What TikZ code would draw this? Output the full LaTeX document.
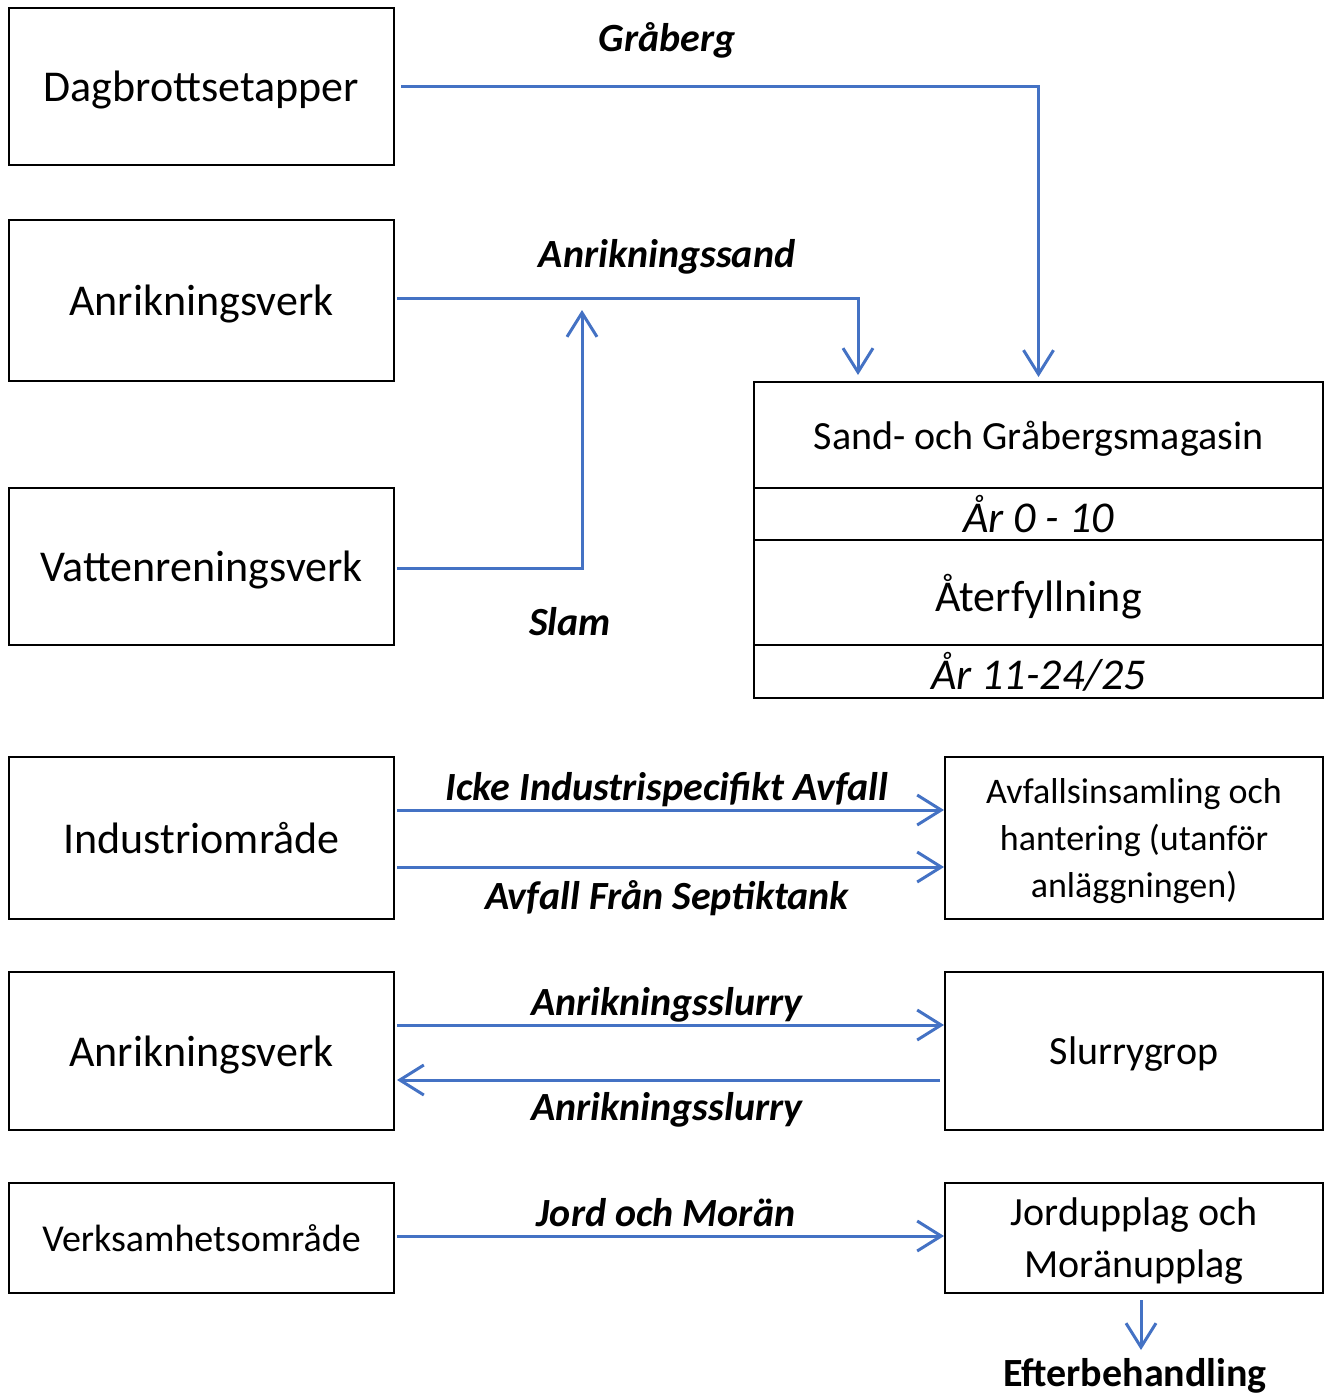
\documentclass[tikz,border=0pt]{standalone}
\usepackage{fontspec}
\setmainfont{Carlito}
\usetikzlibrary{arrows.meta}
\definecolor{flowblue}{HTML}{4472C4}
\tikzset{
    box/.style={draw, line width=1pt, inner sep=0pt, align=center, text depth=0pt, font=\fontsize{22}{30}\selectfont},
    flow/.style={draw=flowblue, line width=1.5pt, -{Straight Barb[length=12pt,width=15pt,line width=1.5pt]}},
    lbl/.style={text depth=0pt, font=\bfseries\itshape\fontsize{20}{24}\selectfont}
}
\begin{document}
\begin{tikzpicture}[x=0.5pt, y=-0.5pt]
    \useasboundingbox (0,0) rectangle (1325,1397);

    % Sources (left column)
    \node[box, minimum width=192.5pt, minimum height=78.5pt] (dag) at (201.5, 86.5) {Dagbrottsetapper};
    \node[box, minimum width=192.5pt, minimum height=80.5pt] (anr) at (201.5, 300.5) {Anrikningsverk};
    \node[box, minimum width=192.5pt, minimum height=78.5pt] (vat) at (201.5, 566.5) {Vattenreningsverk};
    \node[box, minimum width=192.5pt, minimum height=81pt] (ind) at (201.5, 838) {Industriområde};
    \node[box, minimum width=192.5pt, minimum height=79pt] (anrb) at (201.5, 1051) {Anrikningsverk};
    \node[box, minimum width=192.5pt, minimum height=55pt, font=\fontsize{19}{24}\selectfont] (verk) at (201.5, 1238) {Verksamhetsområde};

    % Sand- och Gråbergsmagasin (stacked)
    \node[box, minimum width=284.5pt, minimum height=53pt, font=\fontsize{20}{24}\selectfont] (mag) at (1038.5, 435) {Sand- och Gråbergsmagasin};
    \node[box, minimum width=284.5pt, minimum height=26pt, font=\itshape\fontsize{22}{26}\selectfont] (arA) at (1038.5, 514) {År 0 - 10};
    \node[box, minimum width=284.5pt, minimum height=52.5pt] (ater) at (1038.5, 592.5) {Återfyllning};
    \node[box, minimum width=284.5pt, minimum height=26.5pt, text depth=, font=\itshape\fontsize{22}{26}\selectfont] (arB) at (1038.5, 671.5) {År 11-24/25};

    % Targets (right column)
    \node[box, minimum width=189pt, minimum height=81pt, font=\fontsize{18}{23.5}\selectfont] (avf) at (1134, 838) {Avfallsinsamling och\\hantering (utanför\\anläggningen)};
    \node[box, minimum width=189pt, minimum height=79pt, font=\fontsize{20}{24}\selectfont] (slu) at (1134, 1051) {Slurrygrop};
    \node[box, minimum width=189pt, minimum height=55pt, font=\fontsize{20}{26}\selectfont] (jord) at (1134, 1238) {Jordupplag och\\Moränupplag};
    \node[anchor=base, font=\bfseries\fontsize{20}{24}\selectfont] (eft) at (1135, 1386) {Efterbehandling};

    % Flows
    \coordinate (slamend) at (582, 310);
    \coordinate (eftend) at (1141, 1350);
    \draw[flow, shorten >=2pt] ([xshift=3pt]dag.east) -| (mag.north);
    \draw[flow, shorten >=3pt] ([xshift=1pt,yshift=1pt]anr.east) -| ([xshift=52.5pt]mag.north west);
    \draw[flow] ([xshift=1pt,yshift=-0.75pt]vat.east) -| (slamend);
    \draw[flow] ([xshift=1pt,yshift=14pt]ind.east) -- ([yshift=14pt]avf.west);
    \draw[flow] ([xshift=1pt,yshift=-14.5pt]ind.east) -- ([yshift=-14.5pt]avf.west);
    \draw[flow] ([xshift=1pt,yshift=13pt]anrb.east) -- ([yshift=13pt]slu.west);
    \draw[flow] ([xshift=-2pt,yshift=-14.5pt]slu.west) -- ([xshift=1pt,yshift=-14.5pt]anrb.east);
    \draw[flow] ([xshift=1pt,yshift=1pt]verk.east) -- ([yshift=1pt]jord.west);
    \draw[flow, shorten <=3pt] ([xshift=3.5pt]jord.south) -- (eftend);

    % Flow labels
    \node[lbl] (lgra) at (667, 37) {Gråberg};
    \node[lbl] (lsand) at (667, 253) {Anrikningssand};
    \node[lbl] (lslam) at (570, 621) {Slam};
    \node[lbl] (licke) at (667, 786) {Icke Industrispecifikt Avfall};
    \node[lbl] (lsept) at (667, 895) {Avfall Från Septiktank};
    \node[lbl] (lslu) at (667, 1001) {Anrikningsslurry};
    \node[lbl] (lslub) at (667, 1106) {Anrikningsslurry};
    \node[lbl] (ljord) at (666, 1212) {Jord och Morän};
\end{tikzpicture}
\end{document}
